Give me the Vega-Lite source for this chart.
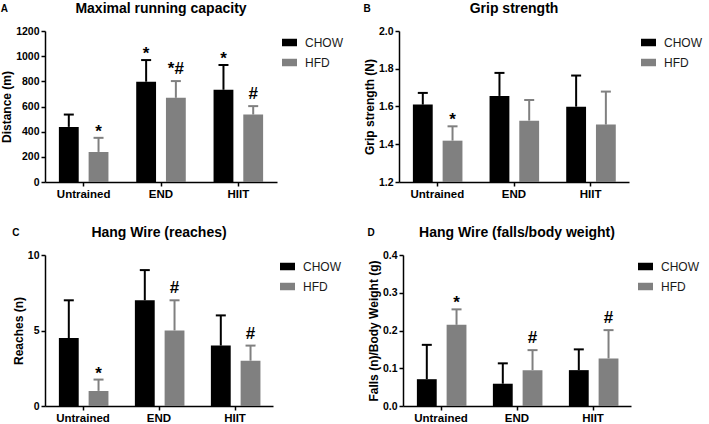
{
  "$schema": "https://vega.github.io/schema/vega-lite/v6.json",
  "padding": {"left": 0, "top": 2, "right": 0, "bottom": 0},
  "datasets": {
    "A": [
      {"group": "Untrained", "diet": "CHOW", "mean": 438, "upper": 536, "label": ""},
      {"group": "Untrained", "diet": "HFD", "mean": 239, "upper": 351, "label": "*"},
      {"group": "END", "diet": "CHOW", "mean": 797, "upper": 969, "label": "*"},
      {"group": "END", "diet": "HFD", "mean": 669, "upper": 802, "label": "*#"},
      {"group": "HIIT", "diet": "CHOW", "mean": 733, "upper": 930, "label": "*"},
      {"group": "HIIT", "diet": "HFD", "mean": 536, "upper": 603, "label": "#"}
    ],
    "B": [
      {"group": "Untrained", "diet": "CHOW", "mean": 1.61, "upper": 1.672, "label": ""},
      {"group": "Untrained", "diet": "HFD", "mean": 1.419, "upper": 1.495, "label": "*"},
      {"group": "END", "diet": "CHOW", "mean": 1.656, "upper": 1.778, "label": ""},
      {"group": "END", "diet": "HFD", "mean": 1.525, "upper": 1.635, "label": ""},
      {"group": "HIIT", "diet": "CHOW", "mean": 1.599, "upper": 1.764, "label": ""},
      {"group": "HIIT", "diet": "HFD", "mean": 1.504, "upper": 1.679, "label": ""}
    ],
    "C": [
      {"group": "Untrained", "diet": "CHOW", "mean": 4.5, "upper": 7, "label": ""},
      {"group": "Untrained", "diet": "HFD", "mean": 1.0, "upper": 1.75, "label": "*"},
      {"group": "END", "diet": "CHOW", "mean": 7, "upper": 9, "label": ""},
      {"group": "END", "diet": "HFD", "mean": 5, "upper": 7, "label": "#"},
      {"group": "HIIT", "diet": "CHOW", "mean": 4, "upper": 6, "label": ""},
      {"group": "HIIT", "diet": "HFD", "mean": 3, "upper": 4, "label": "#"}
    ],
    "D": [
      {"group": "Untrained", "diet": "CHOW", "mean": 0.071, "upper": 0.162, "label": ""},
      {"group": "Untrained", "diet": "HFD", "mean": 0.215, "upper": 0.256, "label": "*"},
      {"group": "END", "diet": "CHOW", "mean": 0.059, "upper": 0.113, "label": ""},
      {"group": "END", "diet": "HFD", "mean": 0.095, "upper": 0.148, "label": "#"},
      {"group": "HIIT", "diet": "CHOW", "mean": 0.095, "upper": 0.150, "label": ""},
      {"group": "HIIT", "diet": "HFD", "mean": 0.126, "upper": 0.201, "label": "#"}
    ]
  },
  "spacing": 26,
  "resolve": {"scale": {"color": "independent", "x": "independent", "y": "independent"}, "legend": {"color": "independent"}},
  "vconcat": [
    {
      "spacing": 16,
      "resolve": {"scale": {"color": "independent", "x": "independent", "y": "independent"}, "legend": {"color": "independent"}},
      "hconcat": [
        {
          "title": {"text": "A", "anchor": "start", "frame": "bounds", "fontSize": 10, "offset": -12},
          "resolve": {"scale": {"color": "independent"}, "legend": {"color": "independent"}},
          "vconcat": [
            {
              "title": {"text": "Maximal running capacity"},
              "width": 232, "height": 151,
              "data": {"name": "A"},
              "encoding": {
                "x": {"field": "group", "type": "nominal", "sort": ["Untrained", "END", "HIIT"], "title": null, "scale": {"paddingInner": 0, "paddingOuter": 0}, "axis": {"labelAngle": 0}},
                "xOffset": {"field": "diet", "type": "nominal", "sort": ["CHOW", "HFD"], "scale": {"paddingInner": 0.333, "paddingOuter": 0.467}},
                "color": {"field": "diet", "type": "nominal", "scale": {"domain": ["CHOW", "HFD"], "range": ["#000000", "#808080"]}, "legend": {"title": null, "offset": 1}}
              },
              "layer": [
                {"mark": {"type": "bar", "opacity": 1}, "encoding": {"y": {"field": "mean", "type": "quantitative", "scale": {"domain": [0, 1200]}, "axis": {"values": [0, 200, 400, 600, 800, 1000, 1200], "title": "Distance (m)", "format": "d"}}}},
                {"mark": {"type": "rule", "strokeWidth": 2}, "encoding": {"y": {"field": "mean", "type": "quantitative", "axis": {"values": [0, 200, 400, 600, 800, 1000, 1200], "title": "Distance (m)", "format": "d"}}, "y2": {"field": "upper"}}},
                {"mark": {"type": "tick", "thickness": 2, "size": 10, "opacity": 1}, "encoding": {"y": {"field": "upper", "type": "quantitative", "axis": {"values": [0, 200, 400, 600, 800, 1000, 1200], "title": "Distance (m)", "format": "d"}}}},
                {"transform": [{"filter": "datum.label == '*'"}], "mark": {"type": "text", "fontSize": 17, "fontWeight": "bold", "baseline": "alphabetic", "dy": -1}, "encoding": {"y": {"field": "upper", "type": "quantitative", "axis": {"values": [0, 200, 400, 600, 800, 1000, 1200], "title": "Distance (m)", "format": "d"}}, "text": {"field": "label"}, "color": {"value": "#000000"}}},
                {"transform": [{"filter": "datum.label != '*' && datum.label != ''"}], "mark": {"type": "text", "fontSize": 17, "fontWeight": "bold", "baseline": "alphabetic", "dy": -7}, "encoding": {"y": {"field": "upper", "type": "quantitative", "axis": {"values": [0, 200, 400, 600, 800, 1000, 1200], "title": "Distance (m)", "format": "d"}}, "text": {"field": "label"}, "color": {"value": "#000000"}}}
              ]
            }
          ]
        },
        {
          "title": {"text": "B", "anchor": "start", "frame": "bounds", "fontSize": 10, "offset": -12},
          "resolve": {"scale": {"color": "independent"}, "legend": {"color": "independent"}},
          "vconcat": [
            {
              "title": {"text": "Grip strength"},
              "width": 230, "height": 151,
              "data": {"name": "B"},
              "encoding": {
                "x": {"field": "group", "type": "nominal", "sort": ["Untrained", "END", "HIIT"], "title": null, "scale": {"paddingInner": 0, "paddingOuter": 0}, "axis": {"labelAngle": 0}},
                "xOffset": {"field": "diet", "type": "nominal", "sort": ["CHOW", "HFD"], "scale": {"paddingInner": 0.333, "paddingOuter": 0.467}},
                "color": {"field": "diet", "type": "nominal", "scale": {"domain": ["CHOW", "HFD"], "range": ["#000000", "#808080"]}, "legend": {"title": null, "offset": 8}}
              },
              "layer": [
                {"mark": {"type": "bar", "opacity": 1}, "encoding": {"y": {"field": "mean", "type": "quantitative", "scale": {"domain": [1.2, 2.0], "zero": false}, "axis": {"values": [1.2, 1.4, 1.6, 1.8, 2.0], "title": "Grip strength (N)", "format": ".1f"}}, "y2": {"datum": 1.2}}},
                {"mark": {"type": "rule", "strokeWidth": 2}, "encoding": {"y": {"field": "mean", "type": "quantitative", "axis": {"values": [1.2, 1.4, 1.6, 1.8, 2.0], "title": "Grip strength (N)", "format": ".1f"}}, "y2": {"field": "upper"}}},
                {"mark": {"type": "tick", "thickness": 2, "size": 10, "opacity": 1}, "encoding": {"y": {"field": "upper", "type": "quantitative", "axis": {"values": [1.2, 1.4, 1.6, 1.8, 2.0], "title": "Grip strength (N)", "format": ".1f"}}}},
                {"transform": [{"filter": "datum.label == '*'"}], "mark": {"type": "text", "fontSize": 17, "fontWeight": "bold", "baseline": "alphabetic", "dy": -1}, "encoding": {"y": {"field": "upper", "type": "quantitative", "axis": {"values": [1.2, 1.4, 1.6, 1.8, 2.0], "title": "Grip strength (N)", "format": ".1f"}}, "text": {"field": "label"}, "color": {"value": "#000000"}}}
              ]
            }
          ]
        }
      ]
    },
    {
      "spacing": 22,
      "resolve": {"scale": {"color": "independent", "x": "independent", "y": "independent"}, "legend": {"color": "independent"}},
      "hconcat": [
        {
          "title": {"text": "C", "anchor": "start", "frame": "bounds", "fontSize": 10, "offset": -12},
          "resolve": {"scale": {"color": "independent"}, "legend": {"color": "independent"}},
          "vconcat": [
            {
              "title": {"text": "Hang Wire (reaches)"},
              "width": 228, "height": 151,
              "data": {"name": "C"},
              "encoding": {
                "x": {"field": "group", "type": "nominal", "sort": ["Untrained", "END", "HIIT"], "title": null, "scale": {"paddingInner": 0, "paddingOuter": 0}, "axis": {"labelAngle": 0}},
                "xOffset": {"field": "diet", "type": "nominal", "sort": ["CHOW", "HFD"], "scale": {"paddingInner": 0.333, "paddingOuter": 0.467}},
                "color": {"field": "diet", "type": "nominal", "scale": {"domain": ["CHOW", "HFD"], "range": ["#000000", "#808080"]}, "legend": {"title": null}}
              },
              "layer": [
                {"mark": {"type": "bar", "opacity": 1}, "encoding": {"y": {"field": "mean", "type": "quantitative", "scale": {"domain": [0, 10]}, "axis": {"values": [0, 5, 10], "title": "Reaches (n)", "format": "d"}}}},
                {"mark": {"type": "rule", "strokeWidth": 2}, "encoding": {"y": {"field": "mean", "type": "quantitative", "axis": {"values": [0, 5, 10], "title": "Reaches (n)", "format": "d"}}, "y2": {"field": "upper"}}},
                {"mark": {"type": "tick", "thickness": 2, "size": 10, "opacity": 1}, "encoding": {"y": {"field": "upper", "type": "quantitative", "axis": {"values": [0, 5, 10], "title": "Reaches (n)", "format": "d"}}}},
                {"transform": [{"filter": "datum.label == '*'"}], "mark": {"type": "text", "fontSize": 17, "fontWeight": "bold", "baseline": "alphabetic", "dy": -1}, "encoding": {"y": {"field": "upper", "type": "quantitative", "axis": {"values": [0, 5, 10], "title": "Reaches (n)", "format": "d"}}, "text": {"field": "label"}, "color": {"value": "#000000"}}},
                {"transform": [{"filter": "datum.label != '*' && datum.label != ''"}], "mark": {"type": "text", "fontSize": 17, "fontWeight": "bold", "baseline": "alphabetic", "dy": -7}, "encoding": {"y": {"field": "upper", "type": "quantitative", "axis": {"values": [0, 5, 10], "title": "Reaches (n)", "format": "d"}}, "text": {"field": "label"}, "color": {"value": "#000000"}}}
              ]
            }
          ]
        },
        {
          "title": {"text": "D", "anchor": "start", "frame": "bounds", "fontSize": 10, "offset": -12},
          "resolve": {"scale": {"color": "independent"}, "legend": {"color": "independent"}},
          "vconcat": [
            {
              "title": {"text": "Hang Wire (falls/body weight)"},
              "width": 228, "height": 151,
              "data": {"name": "D"},
              "encoding": {
                "x": {"field": "group", "type": "nominal", "sort": ["Untrained", "END", "HIIT"], "title": null, "scale": {"paddingInner": 0, "paddingOuter": 0}, "axis": {"labelAngle": 0}},
                "xOffset": {"field": "diet", "type": "nominal", "sort": ["CHOW", "HFD"], "scale": {"paddingInner": 0.333, "paddingOuter": 0.467}},
                "color": {"field": "diet", "type": "nominal", "scale": {"domain": ["CHOW", "HFD"], "range": ["#000000", "#808080"]}, "legend": {"title": null}}
              },
              "layer": [
                {"mark": {"type": "bar", "opacity": 1}, "encoding": {"y": {"field": "mean", "type": "quantitative", "scale": {"domain": [0, 0.4]}, "axis": {"values": [0, 0.1, 0.2, 0.3, 0.4], "title": "Falls (n)/Body Weight (g)", "format": ".1f"}}}},
                {"mark": {"type": "rule", "strokeWidth": 2}, "encoding": {"y": {"field": "mean", "type": "quantitative", "axis": {"values": [0, 0.1, 0.2, 0.3, 0.4], "title": "Falls (n)/Body Weight (g)", "format": ".1f"}}, "y2": {"field": "upper"}}},
                {"mark": {"type": "tick", "thickness": 2, "size": 10, "opacity": 1}, "encoding": {"y": {"field": "upper", "type": "quantitative", "axis": {"values": [0, 0.1, 0.2, 0.3, 0.4], "title": "Falls (n)/Body Weight (g)", "format": ".1f"}}}},
                {"transform": [{"filter": "datum.label == '*'"}], "mark": {"type": "text", "fontSize": 17, "fontWeight": "bold", "baseline": "alphabetic", "dy": -1}, "encoding": {"y": {"field": "upper", "type": "quantitative", "axis": {"values": [0, 0.1, 0.2, 0.3, 0.4], "title": "Falls (n)/Body Weight (g)", "format": ".1f"}}, "text": {"field": "label"}, "color": {"value": "#000000"}}},
                {"transform": [{"filter": "datum.label != '*' && datum.label != ''"}], "mark": {"type": "text", "fontSize": 17, "fontWeight": "bold", "baseline": "alphabetic", "dy": -7}, "encoding": {"y": {"field": "upper", "type": "quantitative", "axis": {"values": [0, 0.1, 0.2, 0.3, 0.4], "title": "Falls (n)/Body Weight (g)", "format": ".1f"}}, "text": {"field": "label"}, "color": {"value": "#000000"}}}
              ]
            }
          ]
        }
      ]
    }
  ],
  "config": {
    "font": "Liberation Sans",
    "view": {"stroke": null},
    "title": {"fontSize": 14, "fontWeight": "bold", "color": "#000000", "anchor": "middle", "offset": 10},
    "axis": {
      "domainColor": "#000000", "domainWidth": 1.5, "tickColor": "#000000", "tickWidth": 1.5, "tickSize": 4,
      "grid": false, "labelFont": "Liberation Sans", "labelFontWeight": "bold", "labelColor": "#000000", "labelOverlap": false,
      "titleFont": "Liberation Sans", "titleFontWeight": "bold", "titleFontSize": 12, "titleColor": "#000000"
    },
    "axisX": {"labelFontSize": 11.5, "labelPadding": 2},
    "axisY": {"labelFontSize": 10.5, "labelPadding": 2, "titlePadding": 2},
    "legend": {
      "labelFont": "Liberation Sans", "labelFontSize": 12, "labelColor": "#1a1a1a",
      "symbolType": "M-1,-0.5H1V0.5H-1Z", "symbolSize": 225, "symbolStrokeWidth": 0,
      "rowPadding": 6, "offset": 3, "labelOffset": 8, "padding": 4
    }
  }
}
